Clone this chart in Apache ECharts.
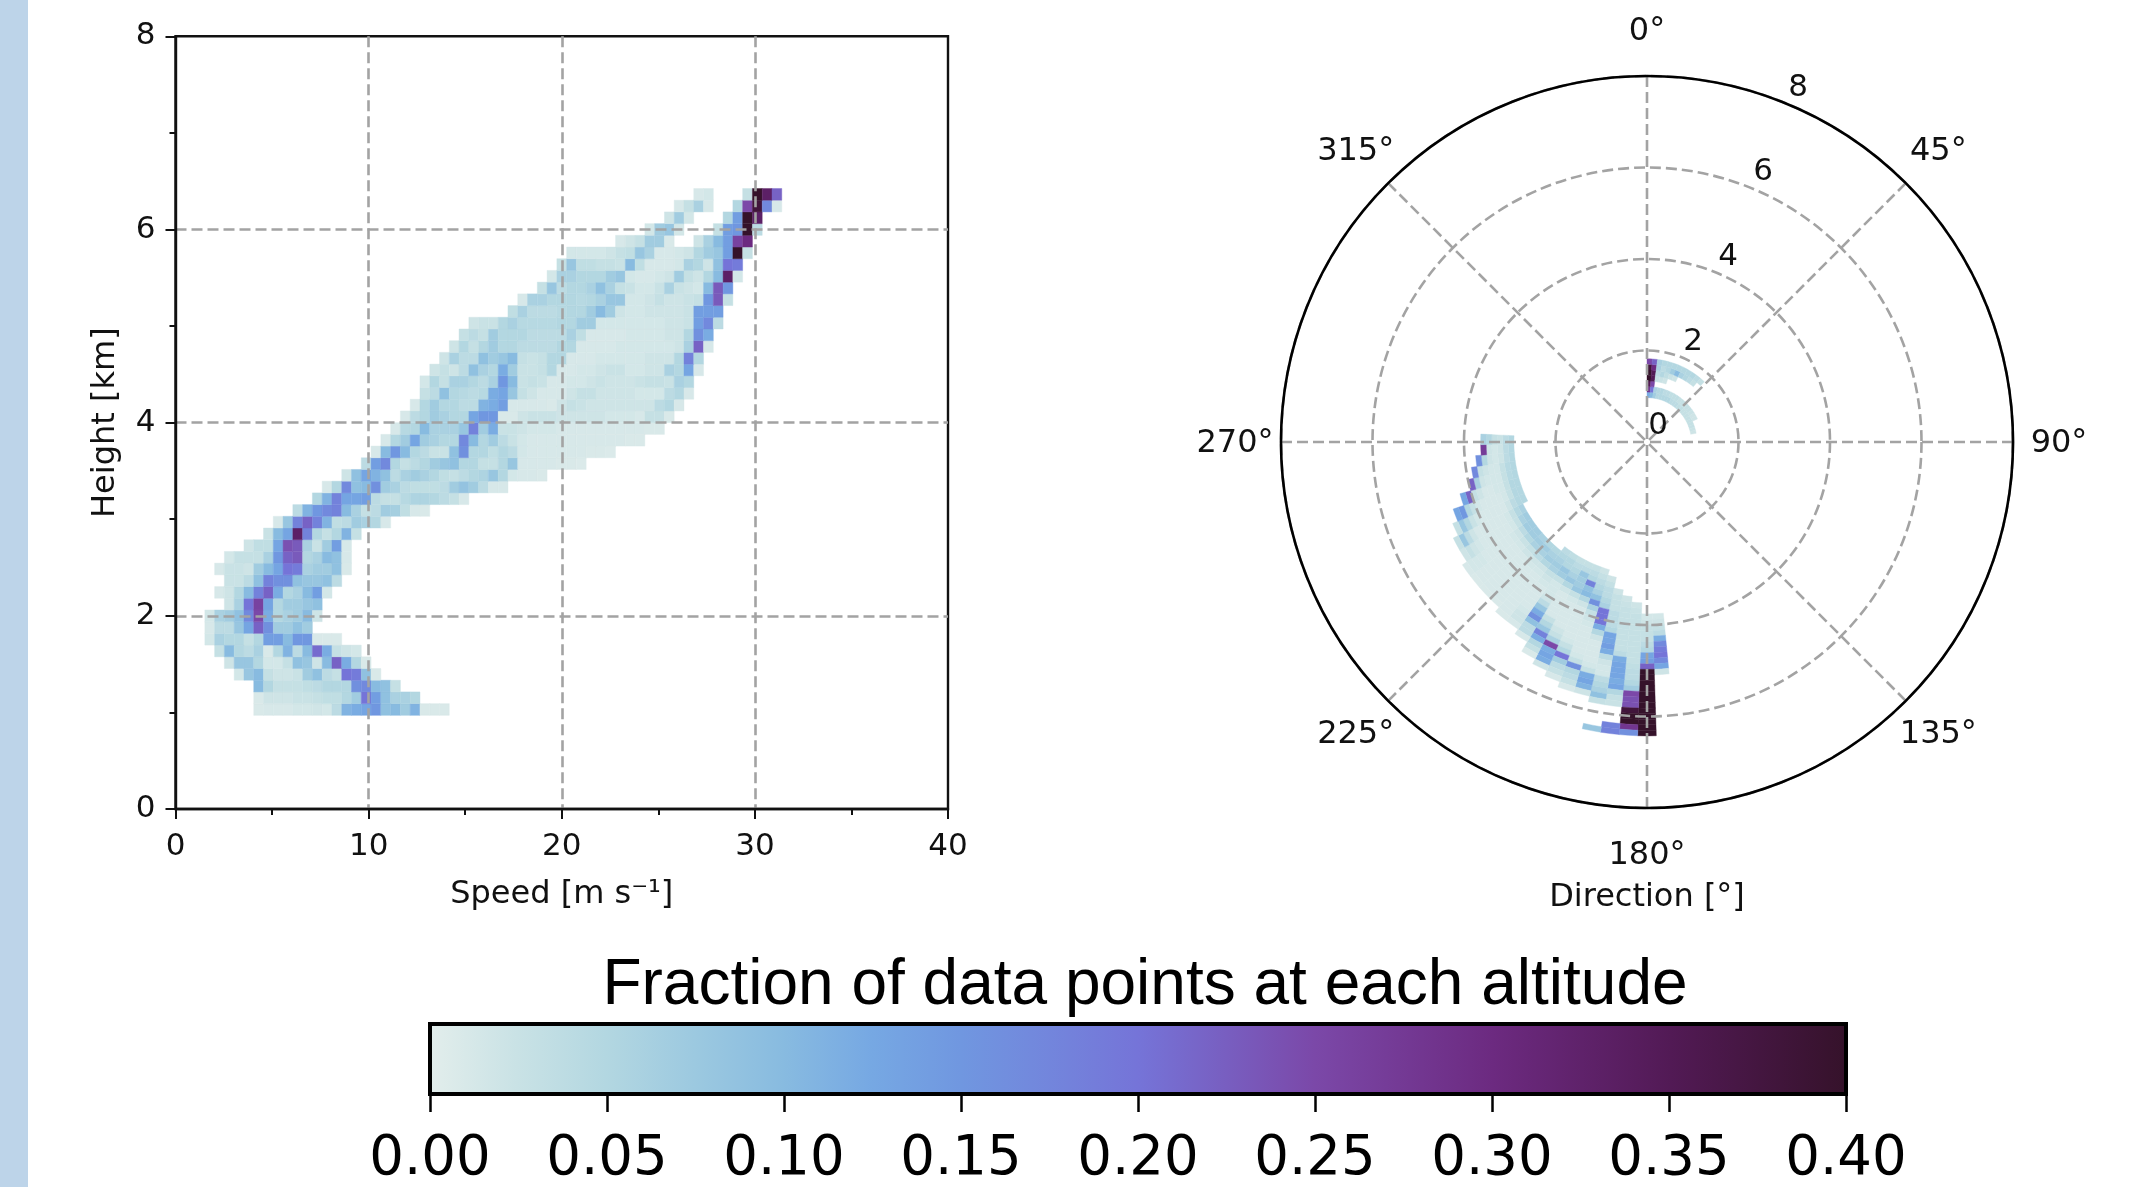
<!DOCTYPE html>
<html>
<head>
<meta charset="utf-8">
<style>html,body{margin:0;padding:0;background:#fff}#c{width:2138px;height:1187px}</style>
<script src="https://cdn.jsdelivr.net/npm/echarts@6/dist/echarts.min.js"></script>
</head>
<body>
<div id="c"></div>
<script>
// Colour scale: fraction -> colour
const scaleValues = [0, 0.025, 0.05, 0.075, 0.1, 0.125, 0.15, 0.2, 0.25, 0.3, 0.35, 0.4];
const scaleColors = ['#e3eeec','#c9e2e5','#b3d7e1','#9cc9e0','#88bbe0','#76a8e3','#7097e0','#7574d8','#7b48a8','#6c2a80','#521a55','#35122a'];
const colorbarTicks = [0, 0.05, 0.1, 0.15, 0.2, 0.25, 0.3, 0.35, 0.4];

// Histogram bin counts
const speedBins = 79, speedMax = 40;
const heightBins = 66, heightMax = 8;
const directionBins = 99, directionMax = 360;
const firstHeightBin = 8;

// Left panel, one row per height bin from the lowest up: [first speed bin, fractions...]
const speedRows = [
[8,[.01,.012,.012,.012,.015,.015,.018,.015,.04,.11,.12,.13,.15,.09,.1,.07,.11,.01,.01,.01]],
[8,[.01,.02,.02,.02,.025,.025,.03,.035,.035,.05,.07,.2,.14,.09,.06,.06,.05]],
[8,[.1,.05,.03,.03,.03,.035,.04,.05,.05,.05,.16,.17,.1,.09,.03]],
[6,[.015,.08,.1,.03,.02,.02,.025,.07,.09,.04,.03,.2,.19,.09,.01]],
[5,[.02,.08,.08,.05,.015,.015,.03,.09,.08,.02,.1,.22,.12,.05,.01]],
[4,[.03,.1,.05,.04,.06,.01,.05,.11,.04,.1,.21,.12,.03,.02,.015]],
[3,[.015,.06,.05,.05,.03,.05,.14,.14,.1,.15,.15,.01,.01,.01]],
[3,[.012,.04,.04,.08,.13,.22,.16,.07,.07,.09,.07]],
[3,[.015,.06,.07,.09,.17,.25,.12,.05,.06,.07,.1,.02]],
[5,[.02,.06,.2,.26,.13,.05,.07,.07,.08,.09]],
[4,[.012,.02,.05,.1,.18,.22,.12,.05,.06,.1,.14,.015]],
[5,[.025,.025,.04,.09,.18,.16,.16,.09,.08,.08,.09,.04]],
[4,[.012,.025,.025,.02,.07,.1,.13,.2,.19,.06,.07,.07,.09,.01]],
[5,[.015,.03,.03,.03,.06,.15,.22,.23,.05,.06,.1,.09,.012]],
[7,[.02,.035,.035,.13,.24,.23,.06,.025,.07,.14,.012]],
[9,[.025,.1,.13,.33,.18,.05,.03,.05,.11,.03]],
[10,[.012,.08,.18,.22,.18,.11,.035,.04,.07,.06,.05,.012]],
[12,[.04,.11,.15,.17,.18,.1,.06,.03,.04,.07,.065,.035,.012,.01]],
[14,[.05,.11,.18,.13,.13,.14,.04,.03,.03,.045,.055,.055,.05,.04,.03,.012]],
[15,[.012,.05,.17,.09,.1,.16,.07,.06,.04,.035,.035,.035,.04,.07,.085,.07,.04,.012,.012]],
[17,[.02,.09,.13,.11,.09,.04,.06,.07,.06,.05,.035,.03,.04,.05,.055,.08,.05,.015,.012,.012,.01]],
[19,[.04,.14,.17,.05,.03,.04,.05,.07,.08,.09,.05,.05,.03,.03,.05,.08,.012,.012,.012,.012,.01,.01,.008]],
[20,[.012,.1,.15,.1,.05,.04,.025,.025,.09,.16,.05,.05,.035,.05,.04,.015,.012,.012,.012,.012,.012,.012,.01,.01,.008]],
[21,[.012,.05,.07,.13,.07,.06,.05,.05,.17,.1,.05,.07,.04,.025,.015,.012,.012,.012,.012,.012,.012,.012,.012,.012,.012,.01,.01]],
[22,[.012,.045,.05,.1,.06,.06,.06,.08,.18,.07,.12,.025,.025,.02,.015,.015,.015,.012,.012,.012,.012,.012,.012,.012,.012,.012,.01,.01]],
[23,[.012,.04,.05,.07,.06,.05,.05,.13,.15,.15,.01,.01,.02,.025,.025,.025,.02,.02,.02,.02,.02,.015,.015,.015,.012,.03,.03,.01]],
[24,[.012,.05,.07,.05,.05,.04,.04,.11,.12,.14,.012,.012,.012,.012,.01,.02,.03,.025,.02,.02,.02,.02,.02,.02,.02,.04,.05,.012]],
[25,[.03,.04,.09,.05,.045,.04,.045,.12,.13,.08,.03,.02,.012,.012,.012,.02,.03,.03,.02,.02,.02,.02,.015,.015,.015,.04,.05,.012]],
[25,[.015,.05,.03,.06,.06,.05,.04,.06,.15,.1,.025,.03,.025,.012,.012,.015,.015,.02,.025,.02,.02,.02,.025,.03,.03,.025,.06,.05]],
[26,[.02,.03,.02,.04,.09,.06,.05,.12,.07,.025,.025,.03,.05,.012,.012,.015,.015,.02,.025,.025,.015,.015,.02,.02,.06,.05,.13,.012]],
[27,[.02,.06,.04,.04,.09,.07,.08,.1,.03,.025,.03,.05,.05,.012,.012,.012,.015,.015,.015,.015,.015,.02,.02,.02,.05,.18,.05]],
[28,[.02,.05,.03,.05,.07,.05,.05,.04,.04,.04,.04,.05,.05,.012,.012,.012,.012,.015,.015,.015,.015,.015,.015,.02,.06,.22,.012]],
[29,[.03,.04,.03,.07,.05,.05,.05,.04,.04,.04,.04,.06,.035,.012,.012,.012,.012,.015,.015,.015,.015,.02,.02,.05,.16,.12]],
[30,[.02,.025,.025,.05,.06,.045,.045,.045,.045,.05,.05,.07,.07,.015,.015,.015,.015,.015,.015,.015,.02,.02,.025,.14,.17,.04]],
[34,[.035,.06,.04,.04,.04,.045,.05,.05,.07,.1,.07,.02,.015,.015,.02,.02,.02,.02,.025,.14,.14,.14]],
[35,[.012,.06,.06,.05,.05,.05,.045,.05,.06,.08,.08,.015,.015,.02,.03,.02,.02,.025,.03,.15,.23,.03]],
[37,[.03,.08,.04,.05,.05,.06,.09,.06,.03,.025,.015,.015,.025,.06,.025,.02,.015,.1,.23,.15]],
[38,[.015,.06,.06,.05,.05,.05,.07,.08,.015,.012,.012,.015,.02,.07,.03,.02,.05,.1,.33,.015]],
[39,[.03,.08,.035,.035,.03,.03,.025,.1,.035,.012,.012,.012,.015,.06,.05,.02,.09,.2,.19]],
[40,[.015,.015,.015,.015,.02,.03,.035,.08,.06,.012,.012,.015,.02,.05,.07,.08,.14,.4,.03]],
[45,[.012,.02,.03,.07,.07,.01,0,0,.02,.06,.1,.14,.26,.3]],
[48,[.015,.07,.08,.015,0,0,0,.03,.14,.15,.4,.04]],
[50,[.02,.07,.015,0,0,0,.05,.14,.4,.33]],
[51,[.012,.03,.06,.012,0,0,.05,.25,.38,.17,.012]],
[53,[.012,.015,0,0,0,.03,.4,.33,.22]]
];

// Right panel, one row per direction bin: [direction bin, first height bin, fractions...]
const directionRows = [
[0,8,[.12,.28,.35,.4,.4,.38,.25]],
[1,8,[.1,.2,.25,.35,.35,.3,.22]],
[2,8,[.07,.06,0,.03,.04,.06,.06]],
[3,8,[.05,.05,0,.025,.05,.04,.05]],
[4,8,[.05,.05,0,.02,.035,.05,.05]],
[5,8,[.05,.04,0,0,.025,.07,.05]],
[6,8,[.05,.04,0,0,.02,.1,.05]],
[7,8,[.05,.035,0,0,0,.06,.05]],
[8,8,[.04,.035,0,0,0,.05,.05]],
[9,8,[.04,.035,0,0,0,.04,.05]],
[10,8,[.04,.03,0,0,0,.03,.04]],
[11,8,[.035,.03,0,0,0,0,.03]],
[12,8,[.035,.03]],[13,8,[.03,.03]],[14,8,[.03,.03]],[15,8,[.03,.025]],
[16,8,[.03,.02]],[17,8,[.03,.02]],[18,8,[.03]],[19,8,[.03]],[20,8,[.025]],[21,8,[.02]],
[48,31,[.015,.02,.03,.04,.12,.17,.19,.2,.17,.13,.02]],
[49,31,[.015,.02,.03,.03,.03,.04,.05,.13,.14,.22,.4,.4,.4,.4,.4,.4,.4,.4,.4,.4,.4,.4]],
[50,29,[.02,.025,.03,.03,.03,.03,.03,.03,.03,.03,.03,.035,.04,.04,.05,.07,.25,.24,.24,.38,.4,.4,.28,.16]],
[51,28,[.02,.025,.03,.03,.03,.03,.03,.03,.03,.03,.04,.12,.13,.13,.13,.12,.13,.05,.03,.025,0,0,0,.18,.18]],
[52,27,[.02,.03,.03,.03,.04,.04,.04,.05,.13,.13,.14,.12,.04,.02,.015,.015,.04,.05,.06,.09,.03,0,0,0,0,.08]],
[53,25,[.02,.03,.04,.04,.05,.06,.2,.2,.2,.12,.05,.02,.012,.012,.012,.012,.015,.03,.12,.13,.11,.02]],
[54,24,[.02,.03,.04,.05,.06,.09,.16,.06,.03,.02,.015,.012,.012,.012,.012,.012,.015,.03,.16,.05,.04,.03,.012]],
[55,24,[.03,.04,.05,.18,.09,.1,.05,.02,.012,.012,.012,.012,.012,.012,.015,.03,.05,.2,.07,.04,.03,.012]],
[56,24,[.03,.04,.08,.07,.07,.08,.03,.015,.012,.012,.012,.012,.012,.02,.03,.06,.25,.12,.13,.12,.02]],
[57,24,[.03,.04,.05,.06,.08,.05,.02,.012,.012,.012,.012,.012,.03,.05,.08,.18,.12,.05,.03,.01]],
[58,24,[.035,.05,.05,.08,.07,.03,.015,.015,.015,.02,.04,.08,.12,.16,.09,.04,.04,.012]],
[59,24,[.04,.05,.06,.07,.06,.03,.02,.015,.012,.012,.012,.012,.012,.015,.02,.02,.012]],
[60,25,[.05,.06,.07,.05,.02,.015,.012,.012,.012,.012,.012,.012,.012,.012,.012,.01]],
[61,25,[.05,.07,.06,.04,.02,.015,.012,.012,.012,.012,.012,.012,.012,.012,.01]],
[62,25,[.06,.07,.06,.03,.02,.012,.012,.012,.012,.012,.012,.012,.012,.012,.01]],
[63,25,[.07,.07,.05,.025,.015,.012,.012,.012,.012,.012,.012,.012,.012,.012,.01]],
[64,25,[.07,.07,.04,.02,.015,.012,.012,.012,.012,.012,.012,.015,.015,.015,.012]],
[65,25,[.07,.06,.03,.015,.012,.012,.012,.012,.012,.012,.015,.02,.03,.02]],
[66,25,[.06,.05,.03,.015,.012,.012,.012,.012,.012,.012,.02,.04,.08,.03]],
[67,24,[.05,.05,.04,.02,.012,.012,.012,.012,.012,.015,.025,.05,.08,.03]],
[68,24,[.05,.05,.03,.015,.012,.012,.012,.012,.015,.03,.05,.15,.13]],
[69,24,[.05,.05,.03,.015,.015,.012,.012,.02,.03,.22,.13]],
[70,24,[.05,.045,.03,.015,.015,.015,.02,.06,.22]],
[71,24,[.05,.045,.03,.015,.015,.02,.03,.17]],
[72,24,[.05,.04,.02,.015,.02,.05,.16]],
[73,24,[.05,.04,.02,.015,.02,.27]],
[74,24,[.05,.04,.025,.03,.05,.06]]
];

const speedTicks = {min:0, max:40, interval:10};
const heightTicks = {min:0, max:8, interval:2};
const radiusTickValues = [0, 2, 4, 6, 8];
const angleTickValues = [0, 45, 90, 135, 180, 225, 270, 315];

function hexToRgb(h){return [1,3,5].map(i=>parseInt(h.substr(i,2),16));}
function colorOf(v){
  const x = Math.min(Math.max(v, scaleValues[0]), scaleValues[scaleValues.length-1]);
  let i = 0;
  while(i < scaleValues.length-2 && x > scaleValues[i+1]) i++;
  const t = (x-scaleValues[i])/(scaleValues[i+1]-scaleValues[i]);
  const a = hexToRgb(scaleColors[i]), b = hexToRgb(scaleColors[i+1]);
  return 'rgb('+a.map((c,j)=>Math.round(c+(b[j]-c)*t)).join(',')+')';
}

const speedEdge = k => k*speedMax/speedBins;
const heightEdge = n => n*heightMax/heightBins;
const dirEdge = a => a*directionMax/directionBins;

const speedCells = [];
speedRows.forEach((row,i)=>{
  const n = firstHeightBin+i;
  row[1].forEach((v,j)=>{
    if(v>0) speedCells.push([speedEdge(row[0]+j),speedEdge(row[0]+j+1),heightEdge(n),heightEdge(n+1),v]);
  });
});
const directionCells = [];
directionRows.forEach(row=>{
  row[2].forEach((v,j)=>{
    const n = row[1]+j;
    if(v>0) directionCells.push([heightEdge(n),heightEdge(n+1),dirEdge(row[0]),dirEdge(row[0]+1),v]);
  });
});

const FONT = 'DejaVu Sans';
const splitStyle = {color:'#a3a3a3', width:2.6, type:[11,5]};
const GRIDLINE = {show:true, showMinLine:false, showMaxLine:false, lineStyle:splitStyle};
const INK = '#111';
const axisLine = {show:true, onZero:false, lineStyle:{color:'#111', width:2.4}};
const axisTick = {show:true, length:10, lineStyle:{color:'#111', width:2}};
const minorTick = {show:true, splitNumber:2, length:6, lineStyle:{color:'#111', width:2}};
const nameStyle = {color:INK, fontFamily:FONT, fontSize:32};

const chart = echarts.init(document.getElementById('c'), null, {renderer:'canvas', width:2138, height:1187});
chart.setOption({
  animation:false,
  backgroundColor:'#fff',
  graphic:[{type:'rect', left:0, top:0, z:0, shape:{width:28, height:1187}, style:{fill:'#bdd4e9'}}],
  title:[
    {text:'Direction [°]', left:1647, top:882, textAlign:'center',
     textStyle:{fontFamily:FONT, fontSize:32, fontWeight:'normal', color:INK}, padding:0},
    {text:'Fraction of data points at each altitude', left:1145, top:954, textAlign:'center',
     textStyle:{fontFamily:'Liberation Sans', fontSize:64, fontWeight:'normal', color:'#000'}, padding:0}
  ],
  grid:[
    {left:175.5, top:36.3, width:772.5, height:772.7, show:true, borderColor:'#111', borderWidth:2.4, backgroundColor:'transparent'},
    {left:430, top:1024, width:1416, height:71, show:false}
  ],
  xAxis:[
    {type:'value', gridIndex:0, z:5, ...speedTicks, name:'Speed [m s⁻¹]', nameLocation:'middle', nameGap:70,
     nameTextStyle:nameStyle,
     axisLine, axisTick, minorTick,
     axisLabel:{color:INK, fontFamily:FONT, fontSize:31, margin:22}, splitLine:GRIDLINE},
    {type:'value', gridIndex:1, z:5, min:colorbarTicks[0], max:colorbarTicks[colorbarTicks.length-1], interval:0.05,
     axisLine:{show:false, onZero:false},
     axisTick:{show:true, length:18, lineStyle:{color:'#000', width:2.5}},
     axisLabel:{color:'#000', fontFamily:FONT, fontSize:54.5, margin:38, formatter:v=>v.toFixed(2)},
     splitLine:{show:false}}
  ],
  yAxis:[
    {type:'value', gridIndex:0, z:5, ...heightTicks, name:'Height [km]', nameLocation:'middle', nameGap:54, nameRotate:90,
     nameTextStyle:nameStyle,
     axisLine, axisTick, minorTick,
     axisLabel:{color:INK, fontFamily:FONT, fontSize:31, margin:20, padding:[6,0,0,0]}, splitLine:GRIDLINE},
    {type:'value', gridIndex:1, min:0, max:1, axisLine:{show:false}, axisTick:{show:false}, axisLabel:{show:false}, splitLine:{show:false}}
  ],
  polar:{center:[1647,442], radius:366},
  angleAxis:{type:'value', min:0, max:360, interval:45, startAngle:90, clockwise:true, z:5,
    axisLine:{show:true, lineStyle:{color:'#000', width:2.6}},
    axisTick:{show:false},
    axisLabel:{show:false},
    splitLine:{show:true, lineStyle:splitStyle}},
  radiusAxis:{type:'value', min:0, max:8, interval:2, z:4,
    axisLine:{show:false}, axisTick:{show:false}, axisLabel:{show:false},
    splitLine:{show:true, showMaxLine:false, lineStyle:splitStyle}},
  series:[
    {type:'custom', coordinateSystem:'cartesian2d', xAxisIndex:0, yAxisIndex:0, z:2, silent:true,
     encode:{x:[0,1], y:[2,3]}, data:speedCells,
     renderItem(params, api){
       const a = api.coord([api.value(0), api.value(2)]);
       const b = api.coord([api.value(1), api.value(3)]);
       const fill = colorOf(api.value(4));
       return {type:'rect', shape:{x:a[0], y:b[1], width:b[0]-a[0], height:a[1]-b[1]},
               style:{fill, stroke:fill, lineWidth:0.4}};
     }},
    {type:'custom', coordinateSystem:'polar', polarIndex:0, z:2, silent:true,
     encode:{radius:[0,1], angle:[2,3]}, data:directionCells,
     renderItem(params, api){
       const r0=api.value(0), r1=api.value(1), a0=api.value(2), a1=api.value(3);
       const mid=(a0+a1)/2;
       const pts=[[r0,a0],[r0,mid],[r0,a1],[r1,a1],[r1,mid],[r1,a0]].map(d=>{
         const p=api.coord(d); return [p[0],p[1]];
       });
       const fill = colorOf(api.value(4));
       return {type:'polygon', shape:{points:pts}, style:{fill, stroke:fill, lineWidth:0.4}};
     }},
    {type:'custom', coordinateSystem:'polar', polarIndex:0, z:6, silent:true,
     encode:{radius:0, angle:1}, data:radiusTickValues.map(r=>[r,22.5]),
     renderItem(params, api){
       const p = api.coord([api.value(0), api.value(1)]);
       return {type:'text', x:p[0]+11, y:p[1]-16,
         style:{text:String(api.value(0)), fill:INK, font:'31px "DejaVu Sans"', textAlign:'center', verticalAlign:'middle'}};
     }},
    {type:'custom', coordinateSystem:'polar', polarIndex:0, z:6, silent:true,
     encode:{radius:0, angle:1}, data:angleTickValues.map(a=>[radiusTickValues[radiusTickValues.length-1],a]),
     renderItem(params, api){
       const p = api.coord([api.value(0), api.value(1)]);
       const cx = params.coordSys.cx, cy = params.coordSys.cy, R = params.coordSys.r;
       const k = 1 + 46/R;
       return {type:'text', x:cx+(p[0]-cx)*k, y:cy+(p[1]-cy)*k+1.5,
         style:{text:api.value(1)+'°', fill:INK, font:'32px "DejaVu Sans"', textAlign:'center', verticalAlign:'middle'}};
     }},
    {type:'custom', coordinateSystem:'cartesian2d', xAxisIndex:1, yAxisIndex:1, z:2, silent:true,
     encode:{x:0, y:1}, data:[[colorbarTicks[0],0,colorbarTicks[colorbarTicks.length-1],1]],
     renderItem(params, api){
       const a = api.coord([api.value(0), api.value(1)]);
       const b = api.coord([api.value(2), api.value(3)]);
       const stops = scaleValues.map((v,i)=>({offset:v/scaleValues[scaleValues.length-1], color:scaleColors[i]}));
       return {type:'rect', shape:{x:a[0], y:b[1], width:b[0]-a[0], height:a[1]-b[1]},
               style:{fill:new echarts.graphic.LinearGradient(0,0,1,0,stops), stroke:'#000', lineWidth:4}};
     }}
  ]
});
</script>
</body>
</html>
